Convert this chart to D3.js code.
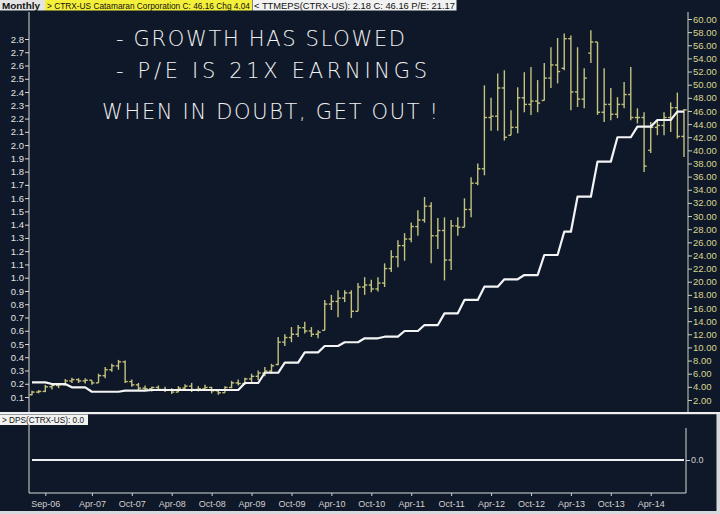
<!DOCTYPE html>
<html><head><meta charset="utf-8">
<script src="https://cdn.jsdelivr.net/npm/d3@7"></script>
<style>html,body{margin:0;padding:0;background:#0f1829;}svg{display:block;}</style>
</head><body>
<svg id="chart" width="720" height="514"></svg>
<script>
const months = ["Jul-06","Aug-06","Sep-06","Oct-06","Nov-06","Dec-06",
"Jan-07","Feb-07","Mar-07","Apr-07","May-07","Jun-07","Jul-07","Aug-07","Sep-07","Oct-07","Nov-07","Dec-07",
"Jan-08","Feb-08","Mar-08","Apr-08","May-08","Jun-08","Jul-08","Aug-08","Sep-08","Oct-08","Nov-08","Dec-08",
"Jan-09","Feb-09","Mar-09","Apr-09","May-09","Jun-09","Jul-09","Aug-09","Sep-09","Oct-09","Nov-09","Dec-09",
"Jan-10","Feb-10","Mar-10","Apr-10","May-10","Jun-10","Jul-10","Aug-10","Sep-10","Oct-10","Nov-10","Dec-10",
"Jan-11","Feb-11","Mar-11","Apr-11","May-11","Jun-11","Jul-11","Aug-11","Sep-11","Oct-11","Nov-11","Dec-11",
"Jan-12","Feb-12","Mar-12","Apr-12","May-12","Jun-12","Jul-12","Aug-12","Sep-12","Oct-12","Nov-12","Dec-12",
"Jan-13","Feb-13","Mar-13","Apr-13","May-13","Jun-13","Jul-13","Aug-13","Sep-13","Oct-13","Nov-13","Dec-13",
"Jan-14","Feb-14","Mar-14","Apr-14","May-14","Jun-14","Jul-14","Aug-14","Sep-14"];

const openP = [2.8,3.2,3.3,4.0,4.2,4.3,4.9,5.1,4.9,5.0,
4.6,5.7,6.6,7.2,7.8,4.8,4.3,3.8,3.7,3.9,
3.6,3.5,3.2,3.8,4.1,3.6,3.7,3.9,3.4,3.1,
3.9,4.6,4.5,5.2,5.6,6.1,6.4,7.4,10.8,11.5,
12.0,13.0,12.5,12.0,12.6,16.6,17.0,17.5,18.3,15.5,
19.2,19.5,18.9,19.8,22.0,23.8,25.5,26.5,28.4,29.4,
31.5,27.0,27.8,23.3,28.5,28.3,31.0,35.0,37.2,45.0,
45.2,49.5,42.3,43.5,48.0,47.0,47.5,47.6,51.0,53.0,
52.5,57.0,48.9,47.8,54.8,56.5,45.8,47.0,45.5,47.0,
48.5,45.0,45.0,40.0,43.5,43.8,45.0,46.5,42.12];
const highP = [3.4,3.5,4.3,4.5,4.5,5.2,5.4,5.3,5.3,5.0,
6.0,7.0,7.5,8.1,8.0,5.1,4.6,4.2,4.0,4.2,
4.0,3.8,4.1,4.4,4.6,4.1,4.3,4.0,3.6,4.1,
4.9,5.1,5.4,6.0,6.5,7.0,7.5,11.6,12.0,13.1,
13.4,13.9,13.1,12.6,17.2,18.0,18.7,18.7,18.7,19.8,
20.7,20.3,20.7,22.8,24.8,26.3,27.4,29.0,30.9,32.9,
32.1,29.7,29.8,29.4,29.8,32.7,35.9,38.0,49.9,48.0,
51.7,52.2,46.1,49.6,51.9,52.7,50.7,53.3,55.7,57.1,
57.8,57.5,55.7,52.5,58.3,56.5,52.5,49.5,48.1,50.4,
52.7,46.4,45.8,44.3,44.6,45.8,47.3,48.8,46.3];
const lowP = [2.7,3.0,3.2,3.6,3.8,4.2,4.6,4.6,4.5,4.3,
4.6,5.3,6.3,6.6,4.6,4.0,3.5,3.4,3.3,3.4,
3.2,2.9,3.2,3.4,3.2,3.3,3.4,3.0,2.8,3.1,
3.8,4.2,4.3,4.7,5.0,5.6,6.0,7.3,10.2,10.8,
11.6,12.1,11.6,11.4,12.6,15.7,14.6,16.9,14.5,15.5,
18.0,18.4,18.5,19.2,21.5,22.2,23.2,26.0,27.0,29.0,
22.8,25.0,20.2,21.8,27.0,28.3,29.8,34.7,36.2,43.0,
43.0,41.5,42.3,42.6,45.8,45.4,45.8,47.6,49.5,50.2,
52.2,46.1,46.6,46.4,53.3,45.4,44.3,44.6,44.9,46.4,
44.6,44.1,36.7,39.6,42.3,42.3,42.8,41.8,39.0];
const closeP = [3.2,3.3,4.0,4.2,4.3,4.9,5.1,4.9,5.0,4.6,
5.7,6.6,7.2,7.8,4.8,4.3,3.8,3.7,3.9,3.6,
3.5,3.2,3.8,4.1,3.6,3.7,3.9,3.4,3.1,3.9,
4.6,4.5,5.2,5.6,6.1,6.4,7.2,10.8,11.5,12.0,
13.0,12.5,12.0,12.3,16.6,17.0,17.5,18.3,15.5,19.2,
19.5,18.9,19.8,22.0,23.8,25.5,26.5,28.4,29.4,31.5,
27.0,27.8,23.3,28.5,28.3,31.0,35.0,37.2,45.0,45.2,
49.5,42.0,43.5,48.0,47.0,47.5,47.2,51.0,53.0,52.0,
57.0,48.9,47.8,51.0,56.5,45.8,47.0,45.5,47.0,48.5,
45.0,45.0,37.6,43.5,43.8,45.0,46.5,42.12,46.16];

const ttmEps = [0.211,0.211,0.211,0.198,0.198,0.198,0.173,0.173,0.173,
0.140,0.140,0.140,0.140,0.140,0.148,0.148,0.148,0.148,
0.153,0.153,0.153,0.153,0.153,0.153,0.153,0.153,0.153,0.153,0.153,0.153,0.153,0.153,
0.206,0.206,0.206,0.283,0.283,0.283,0.359,0.359,0.359,0.437,0.437,0.437,
0.485,0.485,0.485,0.513,0.513,0.513,0.543,0.543,0.543,0.555,0.555,0.555,
0.598,0.598,0.598,0.643,0.643,0.643,0.731,0.731,0.731,0.832,0.832,0.832,
0.932,0.932,0.932,0.988,0.988,0.988,1.020,1.020,1.020,1.171,1.171,1.171,
1.347,1.347,1.611,1.611,1.611,1.875,1.875,1.875,2.059,2.059,2.059,
2.139,2.139,2.139,2.189,2.189,2.189,2.252,2.252];

const dps = [0,0,0,0,0,0,0,0,0,0,0,0,0,0,0,0,0,0,0,0,0,0,0,0,0,0,0,0,0,0,0,0,0,0,0,0,0,0,0,0,0,0,0,0,0,0,0,0,0,0,
0,0,0,0,0,0,0,0,0,0,0,0,0,0,0,0,0,0,0,0,0,0,0,0,0,0,0,0,0,0,0,0,0,0,0,0,0,0,0,0,0,0,0,0,0,0,0,0,0];

const xTickLabels = ["Sep-06","Apr-07","Oct-07","Apr-08","Oct-08","Apr-09","Oct-09","Apr-10","Oct-10","Apr-11","Oct-11","Apr-12","Oct-12","Apr-13","Oct-13","Apr-14"];
const leftTicks = [0.1,0.2,0.3,0.4,0.5,0.6,0.7,0.8,0.9,1.0,1.1,1.2,1.3,1.4,1.5,1.6,1.7,1.8,1.9,2.0,2.1,2.2,2.3,2.4,2.5,2.6,2.7,2.8];
const rightTicks = [2,4,6,8,10,12,14,16,18,20,22,24,26,28,30,32,34,36,38,40,42,44,46,48,50,52,54,56,58,60];
const notes = ["- GROWTH HAS SLOWED","- P/E IS 21X EARNINGS","WHEN IN DOUBT, GET OUT !"];
const headerTexts = ["Monthly","> CTRX-US  Catamaran Corporation  C: 46.16  Chg 4.04","< TTMEPS(CTRX-US): 2.18  C: 46.16 P/E: 21.17"];
const dpsLabel = "> DPS(CTRX-US): 0.0";

const svg = d3.select("#chart");
const FONT = "'Liberation Sans', Arial, sans-serif";
const BG = "#0f1829";
const BAR = "#c4c27c";

svg.append("rect").attr("width",720).attr("height",514).attr("fill",BG);

const x = d3.scaleLinear().domain([0, months.length-1]).range([32, 684]);
const yL = d3.scaleLinear().domain([0, 2.8]).range([410.3, 39]);
const yR = d3.scaleLinear().domain([0, 60]).range([413.1, 19]);
const yD = d3.scaleLinear().domain([-1, 1]).range([492, 428]);

// header
const hdr = svg.append("g").attr("font-family",FONT).attr("font-size",9);
hdr.append("rect").attr("x",0).attr("y",0).attr("width",45).attr("height",10.5).attr("fill","#e4e4e4");
hdr.append("rect").attr("x",45).attr("y",0).attr("width",207).attr("height",10.5).attr("fill","#f3ef3a");
hdr.append("rect").attr("x",252.5).attr("y",0).attr("width",204).attr("height",10.5).attr("fill","#f2f2f2");
hdr.append("text").attr("x",2).attr("y",8.6).attr("font-weight","bold").attr("fill","#111").text(headerTexts[0])
  .attr("textLength",38).attr("lengthAdjust","spacingAndGlyphs");
hdr.append("text").attr("x",47).attr("y",8.6).attr("fill","#111").text(headerTexts[1])
  .attr("textLength",203).attr("lengthAdjust","spacingAndGlyphs");
hdr.append("text").attr("x",254).attr("y",8.6).attr("fill","#111").text(headerTexts[2])
  .attr("textLength",201).attr("lengthAdjust","spacingAndGlyphs");

// left axis (EPS)
const gL = svg.append("g").attr("transform","translate(29,0)");
gL.call(d3.axisLeft(yL).tickValues(d3.range(0.02, 2.95, 0.02)).tickSize(2).tickFormat(""))
  .call(g=>g.select(".domain").remove());
gL.call(d3.axisLeft(yL).tickValues(leftTicks).tickSize(4).tickPadding(1).tickFormat(d3.format(".1f")))
  .call(g=>g.select(".domain").remove());
gL.selectAll("line").attr("stroke","#d8d8d8").attr("stroke-width",1);
gL.selectAll("text").attr("fill","#e2e2e2").attr("font-family",FONT).attr("font-size",9.5);
gL.append("line").attr("x1",0).attr("x2",0).attr("y1",12).attr("y2",412).attr("stroke","#d8d8d8");

// right axis (price)
const gR = svg.append("g").attr("transform","translate(688,0)");
gR.call(d3.axisRight(yR).tickValues(d3.range(0.5, 61, 0.5)).tickSize(2).tickFormat(""))
  .call(g=>g.select(".domain").remove());
gR.call(d3.axisRight(yR).tickValues(rightTicks).tickSize(4).tickPadding(1).tickFormat(d3.format(".2f")))
  .call(g=>g.select(".domain").remove());
gR.selectAll("line").attr("stroke","#d0d0c0").attr("stroke-width",1);
gR.selectAll("text").attr("fill","#d9d58e").attr("font-family",FONT).attr("font-size",9.5);
gR.append("line").attr("x1",0).attr("x2",0).attr("y1",12).attr("y2",412).attr("stroke","#d0d0c0");

// OHLC bars
const bars = svg.append("g").attr("stroke",BAR).attr("stroke-width",1.4);
months.forEach((m,i)=>{
  const cx = x(i);
  bars.append("line").attr("x1",cx).attr("x2",cx).attr("y1",yR(highP[i])).attr("y2",yR(lowP[i]));
  bars.append("line").attr("x1",cx-2.6).attr("x2",cx).attr("y1",yR(openP[i])).attr("y2",yR(openP[i]));
  bars.append("line").attr("x1",cx).attr("x2",cx+2.6).attr("y1",yR(closeP[i])).attr("y2",yR(closeP[i]));
});

// EPS line
svg.append("path").datum(ttmEps)
  .attr("d", d3.line().x((d,i)=>x(i)).y(d=>yL(d)))
  .attr("fill","none").attr("stroke","#f4f4f4").attr("stroke-width",2.2).attr("stroke-linejoin","round");

// handwritten notes
const noteG = svg.append("g").attr("fill","#f2f2f2").attr("font-family","'DejaVu Sans', sans-serif").attr("font-size",21);
const notePos = [[116,46,289],[116,78,311],[102,119,336]];
notes.forEach((t,i)=>{
  noteG.append("text").attr("x",notePos[i][0]).attr("y",notePos[i][1]).text(t)
    .attr("textLength",notePos[i][2]).attr("lengthAdjust","spacing").attr("font-weight",300);
});

// separator
svg.append("rect").attr("x",0).attr("y",412).attr("width",720).attr("height",2.2).attr("fill","#f0f0f0");

// lower panel
svg.append("rect").attr("x",0).attr("y",414.5).attr("width",88).attr("height",10.5).attr("fill","#f2f2f2");
svg.append("text").attr("x",2).attr("y",423).attr("font-family",FONT).attr("font-size",8.8).attr("fill","#111")
  .text(dpsLabel).attr("textLength",82).attr("lengthAdjust","spacingAndGlyphs");

const low = svg.append("g");
low.append("line").attr("x1",29).attr("x2",29).attr("y1",425).attr("y2",493).attr("stroke","#d8d8d8");
low.append("line").attr("x1",686).attr("x2",686).attr("y1",428).attr("y2",493).attr("stroke","#d8d8d8");
const gB = low.append("g").attr("transform","translate(0,493)");
gB.call(d3.axisBottom(x).tickValues(d3.range(0, months.length)).tickSize(2).tickFormat(""))
  .call(g=>g.select(".domain").remove());
gB.call(d3.axisBottom(x).tickValues(xTickLabels.map(l=>months.indexOf(l))).tickSize(3).tickPadding(5)
  .tickFormat(i=>months[i])).call(g=>g.select(".domain").remove());
gB.selectAll("line").attr("stroke","#d0d0d0");
gB.selectAll("text").attr("fill","#d0d0d0").attr("font-family",FONT).attr("font-size",9);
gB.append("line").attr("x1",29).attr("x2",686).attr("y1",0).attr("y2",0).attr("stroke","#d8d8d8");

const gD = low.append("g").attr("transform","translate(686,0)");
gD.call(d3.axisRight(yD).tickValues([0]).tickSize(4).tickPadding(1).tickFormat(d3.format(".1f")))
  .call(g=>g.select(".domain").remove());
gD.selectAll("line").attr("stroke","#d0d0d0");
gD.selectAll("text").attr("fill","#d0d0d0").attr("font-family",FONT).attr("font-size",9);

low.append("path").datum(dps)
  .attr("d", d3.line().x((d,i)=>x(i)).y(d=>yD(d)))
  .attr("fill","none").attr("stroke","#f0f0f0").attr("stroke-width",1.8);

// outer light edges
svg.append("rect").attr("x",716.5).attr("y",414).attr("width",3.5).attr("height",100).attr("fill","#d6d9dd");
svg.append("rect").attr("x",0).attr("y",511).attr("width",720).attr("height",3).attr("fill","#d6d9dd");
</script>
</body></html>
